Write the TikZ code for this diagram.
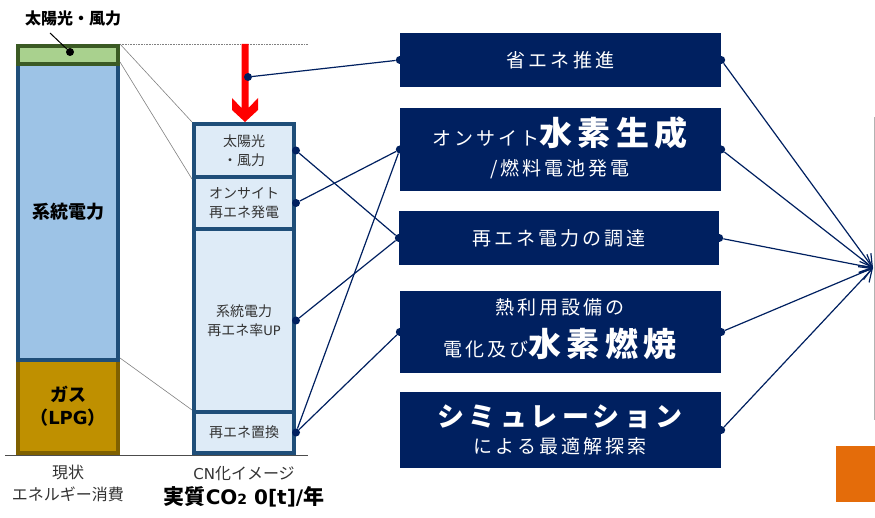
\documentclass[tikz,border=0pt]{standalone}
\usepackage{fontspec}
\setmainfont{Noto Sans CJK JP}
\newfontfamily\boxfont[LetterSpace=16]{Noto Sans CJK JP}
\newfontfamily\latin{DejaVu Sans}
\usetikzlibrary{arrows.meta}
\usetikzlibrary{positioning}

\definecolor{navy}{HTML}{002060}
\definecolor{barblue}{HTML}{1F4E79}
\definecolor{paleblue}{HTML}{DEEBF7}
\definecolor{gridblue}{HTML}{9DC3E6}
\definecolor{leaf}{HTML}{A9D18E}
\definecolor{leafdark}{HTML}{3B5A24}
\definecolor{gas}{HTML}{BF9000}
\definecolor{gasdark}{HTML}{7F6000}
\definecolor{cutorange}{HTML}{E46C0A}

\tikzset{
  seg/.style={draw=barblue, line width=4pt, fill=paleblue, minimum width=100pt, inner sep=0pt,
    align=center, text=black!80, font=\fontsize{14}{19}\selectfont},
  hbox/.style={fill=navy, minimum width=321pt, inner sep=0pt, text=white},
  boxtxt/.style={inner sep=0pt, text=white, font=\boxfont\fontsize{19}{22}\selectfont},
  joint/.style={circle, fill=navy, inner sep=0pt, minimum size=8pt},
  link/.style={navy, line width=1.2pt},
  guide/.style={gray, line width=0.6pt},
}

\begin{document}
\begin{tikzpicture}[x=1pt, y=-1pt]
\useasboundingbox (0,0) rectangle (875,518);

% current consumption bar
\node[seg, draw=gasdark, fill=gas, minimum height=93pt, text=black,
  font=\bfseries\fontsize{18}{23}\selectfont] (gas) at (68,406.5) {ガス\\（{\latin LPG}）};
\node[seg, fill=gridblue, minimum height=296pt, text=black,
  font=\bfseries\fontsize{18}{20}\selectfont] (grid) at (68,212) {系統電力};
\node[seg, draw=leafdark, fill=leaf, minimum height=18pt] (sun) at (68,55) {};
\node[font=\bfseries\fontsize{16}{18}\selectfont] (sunlbl) at (73,18) {太陽光・風力};
\node[circle, fill=black, inner sep=0pt, minimum size=8pt] (sundot) at (70,52) {};
\draw[line width=1pt] (50,33) -- (sundot);

% CN bar
\node[seg, minimum height=183pt] (grid2) at (244,320.5) {系統電力\\再エネ率{\latin\fontsize{13}{19}\selectfont UP}};
\node[seg, minimum height=53pt] (sun2) at (244,150.5) {太陽光\\・風力};
\node[seg, minimum height=52pt] (site) at (244,203) {オンサイト\\再エネ発電};
\node[seg, minimum height=41pt] (swap) at (244,432.5) {再エネ置換};

% zoom guides and ground line
\coordinate (topend) at (308,44);
\draw[guide, densely dotted] (sun.north east) -- (topend);
\draw[guide] (sun.north east) -- (sun2.north west);
\draw[guide] (grid.north east) -- (sun2.south west);
\draw[guide] (gas.north east) -- (swap.north west);
\coordinate (g0) at (5,455);
\coordinate (g1) at (308,455);
\draw[gray!60!black, line width=1pt] (g0) -- (g1);

% red arrow
\fill[red] (241.5,44) -- (248.5,44) -- (248.5,108) -- (258,98) -- (258,110) -- (245,122)
  -- (232,110) -- (232,98) -- (241.5,108) -- cycle;
\node[joint] (rd) at (248,77) {};

% bottom labels
\node[align=center, text=black!80, font=\fontsize{16}{22}\selectfont] (now) at (68,483) {現状\\エネルギー消費};
\node[text=black!80, font=\fontsize{16}{18}\selectfont] (cn) at (244,474) {{\latin\fontsize{15}{18}\selectfont CN}化イメージ};
\node[font=\bfseries\fontsize{21}{24}\selectfont] (zero) at (244,497)
  {実質{\latin\fontsize{20}{24}\selectfont CO{\fontsize{14}{15}\selectfont 2} 0[t]/}年};

% measures
\node[hbox, minimum height=54pt, font=\boxfont\fontsize{19}{22}\selectfont] (h1) at (560.5,60) {省エネ推進};
\node[hbox, minimum height=83pt] (h2) at (560.5,149.5) {};
\node[hbox, minimum width=320pt, minimum height=54pt, font=\boxfont\fontsize{19}{22}\selectfont] (h3) at (559,238) {再エネ電力の調達};
\node[hbox, minimum height=82pt] (h4) at (560.5,332) {};
\node[hbox, minimum height=76pt] (h5) at (560.5,430) {};

\node[boxtxt, anchor=base] (h2a) at (560,146) {オンサイト{\bfseries\fontsize{33}{33}\selectfont 水素生成}};
\node[boxtxt, anchor=base] (h2b) at (560,176) {/燃料電池発電};
\node[boxtxt, anchor=base] (h4a) at (560,315) {熱利用設備の};
\node[boxtxt, anchor=base] (h4b) at (560,356) {電化及び{\bfseries\fontsize{33}{33}\selectfont 水素燃焼}};
\node[boxtxt, anchor=base, font=\boxfont\bfseries\fontsize{27}{28}\selectfont] (h5a) at (560,426) {シミュレーション};
\node[boxtxt, anchor=base] (h5b) at (560,453) {による最適解探索};

% joints
\foreach \b in {h1,h2,h3,h4} \node[joint] (\b l) at (\b.west) {};
\foreach \b in {h1,h2,h3,h4,h5} \node[joint] (\b r) at (\b.east) {};
\node[joint] (sun2r) at (sun2.east) {};
\node[joint] (siter) at (site.east) {};
\node[joint] (grid2r) at (grid2.east) {};
\node[joint] (swapr) at (swap.east) {};

\draw[link] (rd) -- (h1l);
\draw[link] (sun2r) -- (h3l);
\draw[link] (siter) -- (h2l);
\draw[link] (grid2r) -- (h3l);
\draw[link] (swapr) -- (h2l);
\draw[link] (swapr) -- (h4l);

% cut-off picture at the right edge
\coordinate (goal) at (873,268);
\draw[gray!60, line width=1pt] (874,117) -- (874,420);
\fill[cutorange] (836,446) rectangle (876,502);
\foreach \b in {h1,h2,h3,h4,h5}
  \draw[link, -{Straight Barb[length=12pt,width=14pt]}] (\b r) -- (goal);
\end{tikzpicture}
\end{document}
